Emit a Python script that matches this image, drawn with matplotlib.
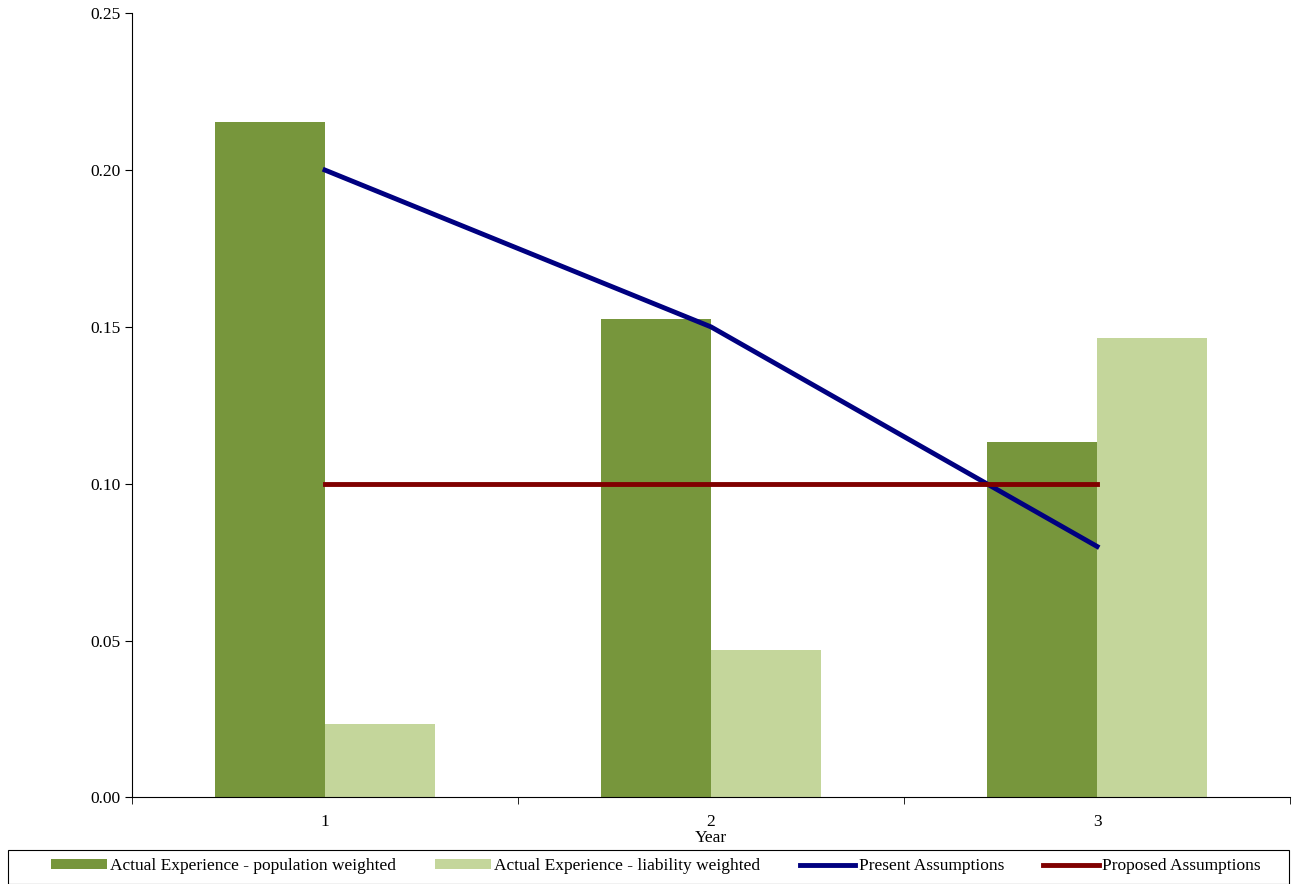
import matplotlib.pyplot as plt
import numpy as np
from matplotlib.patches import Rectangle

years = ["1", "2", "3"]
pop_weighted = [0.2152, 0.1524, 0.1132]
liab_weighted = [0.0233, 0.0469, 0.1464]
present = [0.20, 0.15, 0.08]
proposed = [0.10, 0.10, 0.10]

plt.rcParams["font.family"] = ["Liberation Serif", "DejaVu Serif"]
fig = plt.figure(figsize=(12.94, 8.84), dpi=100)
ax = fig.add_axes([0.102, 0.098, 0.895, 0.887])

x = np.arange(len(years))
w = 0.285
b1 = ax.bar(x - w / 2, pop_weighted, w, color="#77963c", label="Actual Experience - population weighted")
b2 = ax.bar(x + w / 2, liab_weighted, w, color="#c4d69b", label="Actual Experience - liability weighted")
l1, = ax.plot(x, present, color="#000080", lw=3.5, label="Present Assumptions")
l2, = ax.plot(x, proposed, color="#800000", lw=3.5, label="Proposed Assumptions")

ax.set_xlim(-0.5, 2.5)
ax.set_ylim(0, 0.25)
ax.set_yticks(np.arange(0, 0.26, 0.05))
ax.set_yticklabels([f"{v:.2f}" for v in np.arange(0, 0.26, 0.05)], fontsize=12.5)
ax.set_xticks(x)
ax.set_xticklabels(years, fontsize=12.5)
ax.tick_params(axis="x", which="major", length=0, pad=12)
ax.set_xticks([-0.5, 0.5, 1.5, 2.5], minor=True)
ax.tick_params(axis="x", which="minor", length=5)
ax.tick_params(axis="y", length=5)
ax.set_xlabel("Year", fontsize=12.5, labelpad=0)
for s in ["top", "right"]:
    ax.spines[s].set_visible(False)

fig.patches.append(Rectangle((0.006, 0.0), 0.99, 0.039, transform=fig.transFigure,
                             fill=False, edgecolor="black", lw=0.8))
fig.legend([b1, b2, l1, l2], [h.get_label() for h in [b1, b2, l1, l2]],
           loc="center", bbox_to_anchor=(0.507, 0.02), ncol=4, fontsize=12.5,
           frameon=False, handlelength=3.2, handleheight=0.5, handletextpad=0.2,
           columnspacing=2.25)
fig.savefig("out.png", dpi=100)
